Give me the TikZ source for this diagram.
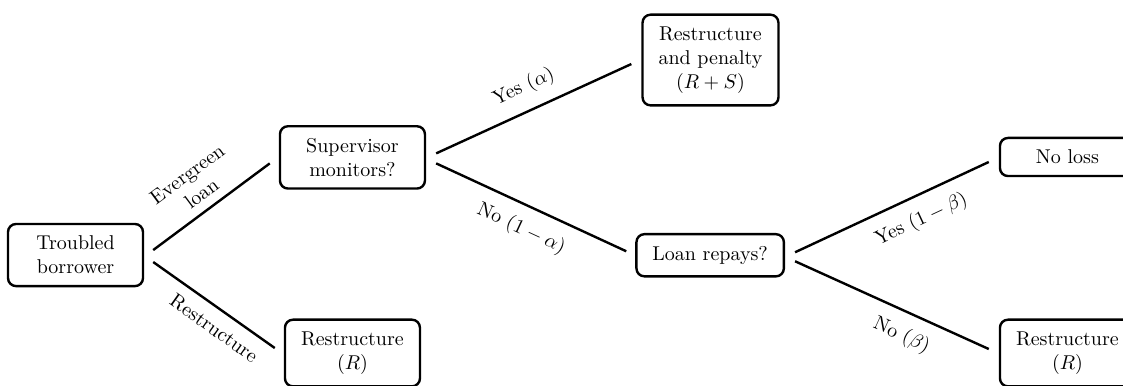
\documentclass[tikz,border=0pt]{standalone}
\usepackage{amsmath}
\usepackage{tikz}
\usetikzlibrary{positioning, calc}

\tikzset{
  box/.style={draw, very thick, rounded corners=4pt, align=center, inner xsep=8pt, inner ysep=6pt, minimum width=67.5pt},
  branch/.style={very thick},
  lbl/.style={sloped}
}

\begin{document}
\begin{tikzpicture}
    \useasboundingbox (0, 0) rectangle (19.735, 6.766);

    % nodes of the tree
    \node[box] (tb) at (1.327, 2.284) {Troubled\\borrower};
    \node[box, minimum width=72.5pt] (sm) at (6.194, 4.0) {Supervisor\\monitors?};
    \node[box] (rr) at (6.194, 0.562) {Restructure\\$(R)$};
    \node[box] (rp) at (12.486, 5.711) {Restructure\\and penalty\\$(R+S)$};
    \node[box] (lr) at (12.48, 2.28) {Loan repays?};
    \node[box] (nl) at (18.759, 4.007) {No loss};
    \node[box] (rr2) at (18.759, 0.562) {Restructure\\$(R)$};

    % first decision
    \draw[branch] ([shift={(4.5pt,2.5pt)}]tb.east) -- ([shift={(-4.5pt,-3pt)}]sm.west)
        node[lbl, pos=0.5, above=1pt, align=center] {Evergreen\\loan};
    \draw[branch] ([shift={(4.5pt,-3.5pt)}]tb.east) -- ([shift={(-4.5pt,2.5pt)}]rr.west)
        node[lbl, pos=0.59, below=2pt] {Restructure};

    % supervisor
    \draw[branch] ([shift={(5pt,2pt)}]sm.east) -- ([shift={(-5pt,-2pt)}]rp.west)
        node[lbl, pos=0.5, above=3pt] {Yes $(\alpha)$};
    \draw[branch] ([shift={(5pt,-3pt)}]sm.east) -- ([shift={(-4.5pt,2pt)}]lr.west)
        node[lbl, pos=0.5, below=3pt] {No $(1-\alpha)$};

    % repayment
    \draw[branch] ([shift={(5pt,1.5pt)}]lr.east) -- ([shift={(-5pt,-2.5pt)}]nl.west)
        node[lbl, pos=0.6, below=3pt] {Yes $(1-\beta)$};
    \draw[branch] ([shift={(5pt,-3pt)}]lr.east) -- ([shift={(-5pt,2pt)}]rr2.west)
        node[lbl, pos=0.6, below=3pt] {No $(\beta)$};
\end{tikzpicture}
\end{document}
